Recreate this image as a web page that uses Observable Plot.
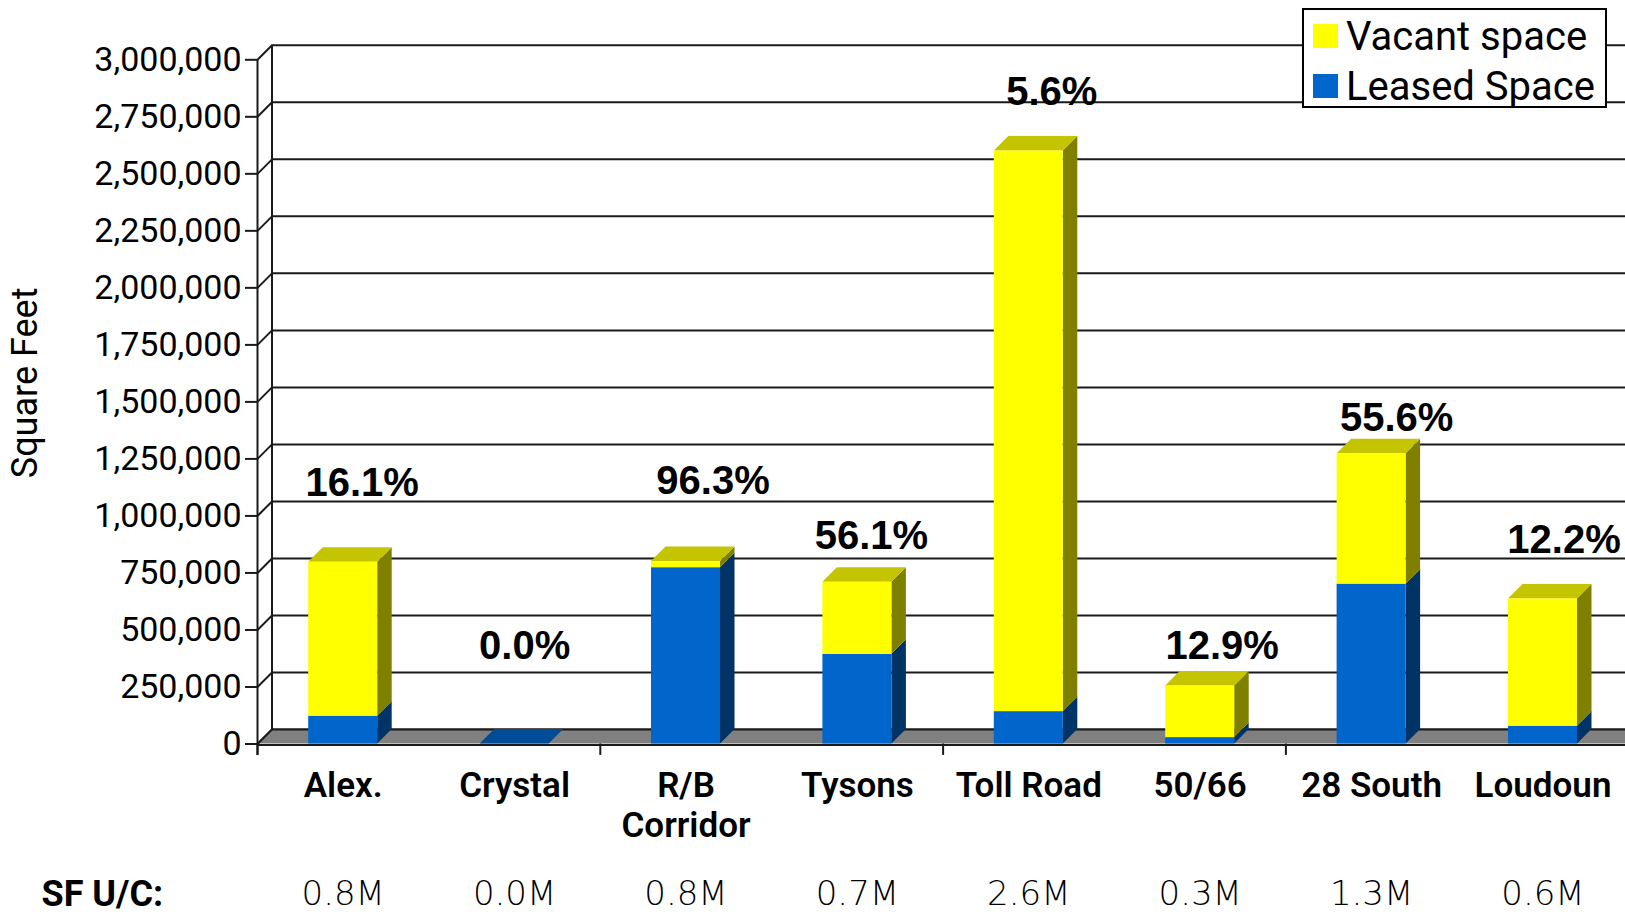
<!DOCTYPE html>
<html>
<head>
<meta charset="utf-8">
<script src="https://cdn.jsdelivr.net/npm/d3@7"></script>
<script src="https://cdn.jsdelivr.net/npm/@observablehq/plot@0.6"></script>
<style>
  html, body { margin: 0; padding: 0; background: #fff; }
  #wrap { position: relative; width: 1625px; height: 915px; overflow: hidden; }
  #legend { position: absolute; left: 1302px; top: 8px; width: 301px; height: 96px;
    border: 2px solid #000; background: #fff; font-family: Roboto, sans-serif; font-size: 40px; color: #000; }
  .row { position: absolute; left: 9px; display: flex; align-items: center; height: 48px; }
  .sw { width: 25px; height: 24px; margin-right: 8px; }
</style>
</head>
<body>
<div id="wrap"></div>
<script>
// ---- data ----
const categories = ["Alex.", "Crystal", "R/B\nCorridor", "Tysons", "Toll Road", "50/66", "28 South", "Loudoun"];
const leased = [122000, 0, 773000, 393000, 142000, 28000, 701000, 78000];
const totals = [797000, 0, 800000, 709000, 2600000, 254000, 1273000, 636000];
const pctLabels = ["16.1%", "0.0%", "96.3%", "56.1%", "5.6%", "12.9%", "55.6%", "12.2%"];
const pctLabelAt = [1142000, 427000, 1151000, 910000, 2857000, 427000, 1427000, 892000];
const pctLabelShift = [19, 10, 27, 14, 23, 22, 25, 21];
const sfUC = ["0.8M", "0.0M", "0.8M", "0.7M", "2.6M", "0.3M", "1.3M", "0.6M"];
const yTicks = [0, 250000, 500000, 750000, 1000000, 1250000, 1500000, 1750000, 2000000, 2250000, 2500000, 2750000, 3000000];
const seriesNames = ["Vacant space", "Leased Space"];

// ---- geometry helpers (3D depth) ----
const bandPx = 171.4;
const dX = 14.5 / bandPx;           // depth in category units
const dY = 14.5 * 3000000 / 684.2;  // depth in value units
const hw = 0.2013;                  // half bar width
const idx = categories.map((c, i) => i);

const frontBlue = idx.map(i => ({i, x1: i + 0.5 - hw, x2: i + 0.5 + hw, y1: 0, y2: leased[i]}));
const frontYellow = idx.map(i => ({i, x1: i + 0.5 - hw, x2: i + 0.5 + hw, y1: leased[i], y2: totals[i]}));
const side = (lo, hi) => idx.flatMap(i => [
  {i, x: i + 0.5 + hw, y1: lo[i], y2: hi[i]},
  {i, x: i + 0.5 + hw + dX, y1: lo[i] + dY, y2: hi[i] + dY}
]);
const zeros = idx.map(() => 0);
const sideBlue = side(zeros, leased);
const sideYellow = side(leased, totals);
const topFaces = idx.flatMap(i => [
  {i, y: totals[i], x1: i + 0.5 - hw, x2: i + 0.5 + hw, vac: totals[i] - leased[i] > 0},
  {i, y: totals[i] + dY, x1: i + 0.5 - hw + dX, x2: i + 0.5 + hw + dX, vac: totals[i] - leased[i] > 0}
]);
const floorFace = [{y: 0, x1: 0, x2: 8}, {y: dY, x1: dX, x2: 8 + dX}];

const chart = Plot.plot({
  width: 1625, height: 915,
  marginLeft: 257, marginRight: 0, marginTop: 59.3, marginBottom: 171.5,
  x: {type: "linear", domain: [0, 8], range: [257, 257 + 8 * bandPx], axis: null},
  y: {domain: [0, 3000000], axis: null},
  style: {fontFamily: "Roboto, sans-serif", color: "#000", background: "#fff", overflow: "visible"},
  marks: [
    // back wall gridlines
    Plot.ruleY(yTicks, {y: d => d + dY, x1: dX, x2: 8 + dX, stroke: "#1a1a1a", strokeWidth: 2}),
    // left wall
    Plot.ruleX([dX], {y1: dY, y2: 3000000 + dY, stroke: "#1a1a1a", strokeWidth: 2}),
    Plot.link(yTicks, {x1: 0, y1: d => d, x2: dX, y2: d => d + dY, stroke: "#1a1a1a", strokeWidth: 2}),
    // floor
    Plot.areaX(floorFace, {y: "y", x1: "x1", x2: "x2", fill: "#808080"}),
    Plot.ruleY([dY], {x1: dX, x2: 8 + dX, stroke: "#1a1a1a", strokeWidth: 2}),
    Plot.link([0], {x1: 0, y1: 0, x2: dX, y2: dY, stroke: "#1a1a1a", strokeWidth: 2}),
    // bars: sides
    Plot.areaY(sideBlue, {x: "x", y1: "y1", y2: "y2", z: "i", fill: "#003366"}),
    Plot.areaY(sideYellow, {x: "x", y1: "y1", y2: "y2", z: "i", fill: "#808000"}),
    // bars: tops
    Plot.areaX(topFaces.filter(d => d.vac), {y: "y", x1: "x1", x2: "x2", z: "i", fill: "#C4C400"}),
    Plot.areaX(topFaces.filter(d => !d.vac), {y: "y", x1: "x1", x2: "x2", z: "i", fill: "#004C99"}),
    // bars: fronts
    Plot.rect(frontBlue, {x1: "x1", x2: "x2", y1: "y1", y2: "y2", fill: "#0066CC"}),
    Plot.rect(frontYellow, {x1: "x1", x2: "x2", y1: "y1", y2: "y2", fill: "#FFFF00"}),
    // front floor edge + axes
    Plot.ruleY([0], {x1: 0, x2: 8, stroke: "#1a1a1a", strokeWidth: 2, dy: 1}),
    Plot.ruleX([0], {y1: -50000, y2: 3000000, stroke: "#1a1a1a", strokeWidth: 2}),
    Plot.ruleX([0, 2, 4, 6, 8], {y1: -50000, y2: 0, stroke: "#1a1a1a", strokeWidth: 2}),
    Plot.axisY(yTicks, {anchor: "left", tickSize: 12, tickPadding: 4, tickFormat: d3.format(","),
      fontSize: 34, label: null, stroke: "#1a1a1a", strokeWidth: 2}),
    Plot.text(["Square Feet"], {frameAnchor: "left", dx: -232, dy: -19, rotate: -90, textAnchor: "middle", fontSize: 36}),
    // percent labels (placed annotations)
    Plot.text(idx, {x: i => i + 0.5 + pctLabelShift[i] / bandPx, y: i => pctLabelAt[i], text: i => pctLabels[i],
      fontFamily: "Liberation Sans, Arial, sans-serif", fontWeight: "bold", fontSize: 40}),
    // category labels
    Plot.text(idx, {x: i => i + 0.5, frameAnchor: "bottom", text: i => categories[i], dy: 25,
      lineAnchor: "top", lineHeight: 1.13, fontSize: 35, fontWeight: 600}),
    // SF U/C row
    Plot.text(["SF U/C:"], {frameAnchor: "bottom-left", dx: -216, dy: 136, lineAnchor: "top",
      textAnchor: "start", fontSize: 36, fontWeight: "bold"}),
    Plot.text(idx, {x: i => i + 0.5, frameAnchor: "bottom", text: i => sfUC[i], dy: 137,
      lineAnchor: "top", fontSize: 34, fontFamily: "DejaVu Sans, sans-serif", fontWeight: 200})
  ]
});
const wrap = document.getElementById("wrap");
wrap.appendChild(chart);

const legend = document.createElement("div");
legend.id = "legend";
const colors = ["#FFFF00", "#0066CC"];
seriesNames.forEach((name, k) => {
  const row = document.createElement("div");
  row.className = "row";
  row.style.top = (2 + k * 50) + "px";
  const sw = document.createElement("span");
  sw.className = "sw";
  sw.style.background = colors[k];
  row.appendChild(sw);
  row.appendChild(document.createTextNode(name));
  legend.appendChild(row);
});
wrap.appendChild(legend);
</script>
</body>
</html>
